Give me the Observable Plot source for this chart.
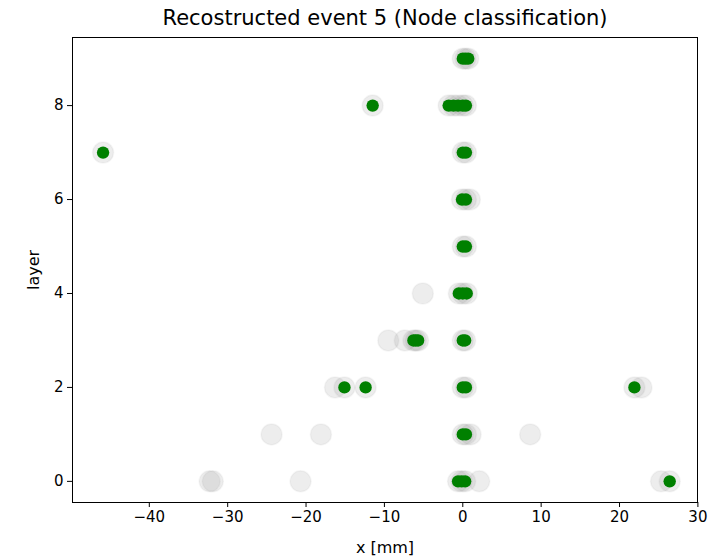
<!DOCTYPE html>
<html>
<head>
<meta charset="utf-8">
<script src="https://cdn.jsdelivr.net/npm/d3@7"></script>
<script src="https://cdn.jsdelivr.net/npm/@observablehq/plot@0.6"></script>
<style>
  html, body { margin: 0; padding: 0; background: #fff; }
  svg { font-family: "DejaVu Sans", sans-serif; }
</style>
</head>
<body>
<div id="chart"></div>
<script>
// Node positions (x in mm), layer index, and classification (1 = selected/green)
const nodeX     = [0.0, 0.35, 0.7,
                   -11.5, -1.8, -1.2, -0.6, 0.0, 0.4,
                   -45.9, 0.0, 0.4,
                   -0.1, 0.4, 0.9,
                   0.0, 0.4,
                   -5.1, -0.5, 0.0, 0.5,
                   -9.5, -7.4, -6.3, -6.0, -5.7, 0.0, 0.3,
                   -16.3, -15.1, -12.4, 0.0, 0.4, 21.9, 22.8,
                   -24.4, -18.1, 0.0, 0.4, 1.0, 8.6,
                   -32.3, -31.9, -20.7, -0.6, -0.15, 0.3, 2.1, 25.3, 26.4];
const nodeLayer = [9, 9, 9,
                   8, 8, 8, 8, 8, 8,
                   7, 7, 7,
                   6, 6, 6,
                   5, 5,
                   4, 4, 4, 4,
                   3, 3, 3, 3, 3, 3, 3,
                   2, 2, 2, 2, 2, 2, 2,
                   1, 1, 1, 1, 1, 1,
                   0, 0, 0, 0, 0, 0, 0, 0, 0];
const nodeClass = [1, 1, 1,
                   1, 1, 1, 1, 1, 1,
                   1, 1, 1,
                   1, 1, 0,
                   1, 1,
                   0, 1, 1, 1,
                   0, 0, 1, 1, 1, 1, 1,
                   0, 1, 1, 1, 1, 1, 0,
                   0, 0, 1, 1, 0, 0,
                   0, 0, 0, 1, 1, 1, 0, 0, 1];

const xTicks = [-40, -30, -20, -10, 0, 10, 20, 30];
const yTicks = [0, 2, 4, 6, 8];
const titleText = "Recostructed event 5 (Node classification)";
const xLabel = "x [mm]";
const yLabel = "layer";

const nodes = nodeX.map((x, i) => ({x, layer: nodeLayer[i], cls: nodeClass[i]}));
const selected = nodes.filter(d => d.cls === 1);
const fmt = d => d < 0 ? "\u2212" + Math.abs(d) : String(d);

const chart = Plot.plot({
  width: 727,
  height: 560,
  marginTop: 37,
  marginBottom: 58,
  marginLeft: 72,
  marginRight: 30,
  style: {fontFamily: "DejaVu Sans, sans-serif", fontSize: "15px", color: "#000", background: "#fff"},
  x: {domain: [-49.8, 29.95]},
  y: {domain: [-0.45, 9.45]},
  marks: [
    Plot.dot(nodes, {x: "x", y: "layer", r: 10.5, fill: "#808080", fillOpacity: 0.14, stroke: "#808080", strokeOpacity: 0.07, strokeWidth: 1.5}),
    Plot.dot(selected, {x: "x", y: "layer", r: 6.2, fill: "#008000", stroke: "none"}),
    Plot.frame({stroke: "#000", strokeWidth: 1}),
    Plot.axisX(xTicks, {tickSize: 5, tickPadding: 4, tickFormat: fmt, label: null, fontSize: 15, stroke: "#000"}),
    Plot.axisY(yTicks, {tickSize: 5, tickPadding: 4, tickFormat: fmt, label: null, fontSize: 15, stroke: "#000"}),
    Plot.text([titleText], {frameAnchor: "top", lineAnchor: "middle", dy: -19, fontSize: 21, fill: "#000"}),
    Plot.text([xLabel], {frameAnchor: "bottom", lineAnchor: "middle", dy: 45, fontSize: 16, fill: "#000"}),
    Plot.text([yLabel], {frameAnchor: "left", textAnchor: "middle", lineAnchor: "middle", dx: -39, rotate: -90, fontSize: 16, fill: "#000"})
  ]
});
document.getElementById("chart").appendChild(chart);
</script>
</body>
</html>
